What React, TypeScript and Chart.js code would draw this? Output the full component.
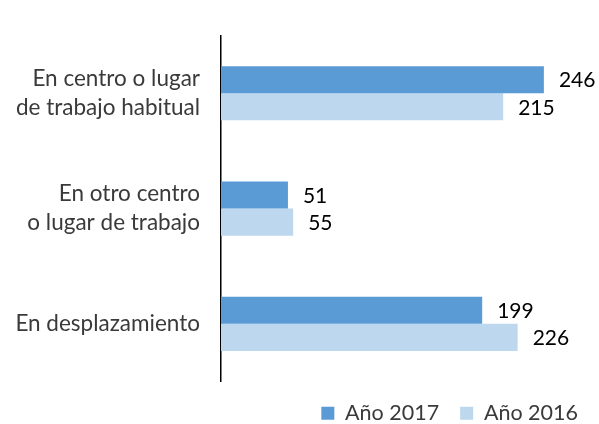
import React, { useEffect, useRef } from "react";
import { Chart, registerables } from "chart.js";

Chart.register(...registerables);

const categories: string[][] = [
  ["En centro o lugar", "de trabajo habitual"],
  ["En otro centro", "o lugar de trabajo"],
  ["En desplazamiento"],
];
const series2017: number[] = [246, 51, 199];
const series2016: number[] = [215, 55, 226];
const seriesNames: string[] = ["Año 2017", "Año 2016"];

const FONT = "Lato";

const valueLabels = {
  id: "valueLabels",
  afterDatasetsDraw(chart: any) {
    const ctx = chart.ctx;
    ctx.save();
    ctx.font = `21px ${FONT}`;
    ctx.fillStyle = "#000000";
    ctx.textAlign = "left";
    ctx.textBaseline = "middle";
    chart.data.datasets.forEach((ds: any, di: number) => {
      const meta = chart.getDatasetMeta(di);
      meta.data.forEach((el: any, i: number) => {
        ctx.fillText(String(ds.data[i]), el.x + 15, el.y + 1);
      });
    });
    ctx.restore();
  },
};

export default function App() {
  const ref = useRef<HTMLCanvasElement | null>(null);
  useEffect(() => {
    if (!ref.current) return;
    const chart = new Chart(ref.current, {
      type: "bar",
      data: {
        labels: categories,
        datasets: [
          {
            label: seriesNames[0],
            data: series2017,
            backgroundColor: "#5B9BD5",
            borderWidth: 0,
            categoryPercentage: 0.47,
            barPercentage: 1,
          },
          {
            label: seriesNames[1],
            data: series2016,
            backgroundColor: "#BDD7EE",
            borderWidth: 0,
            categoryPercentage: 0.47,
            barPercentage: 1,
          },
        ],
      },
      options: {
        indexAxis: "y",
        animation: false,
        responsive: false,
        maintainAspectRatio: false,
        layout: { padding: { top: 35, bottom: 0, left: 0, right: 0 } },
        scales: {
          x: {
            display: false,
            min: 0,
            max: 288,
          },
          y: {
            grid: { display: false, drawTicks: false },
            border: { display: true, color: "#000000", width: 1.5 },
            ticks: {
              padding: 21,
              color: "#3a3a3a",
              font: { family: FONT, size: 22.5, lineHeight: 1.3 },
            },
            afterFit(scale: any) {
              scale.width = 221;
            },
          },
        },
        plugins: {
          legend: {
            position: "bottom",
            align: "end",
            labels: {
              boxWidth: 13,
              boxHeight: 13,
              padding: 21,
              color: "#3a3a3a",
              font: { family: FONT, size: 21.5 },
            },
          },
          tooltip: { enabled: false },
        },
      },
      plugins: [valueLabels],
    });
    return () => chart.destroy();
  }, []);
  return (
    <div
      style={{
        position: "absolute",
        left: 0,
        top: 0,
        width: 599,
        height: 424,
        overflow: "hidden",
        background: "#fff",
      }}
    >
      <canvas ref={ref} width={599} height={434} style={{ display: "block" }} />
    </div>
  );
}
